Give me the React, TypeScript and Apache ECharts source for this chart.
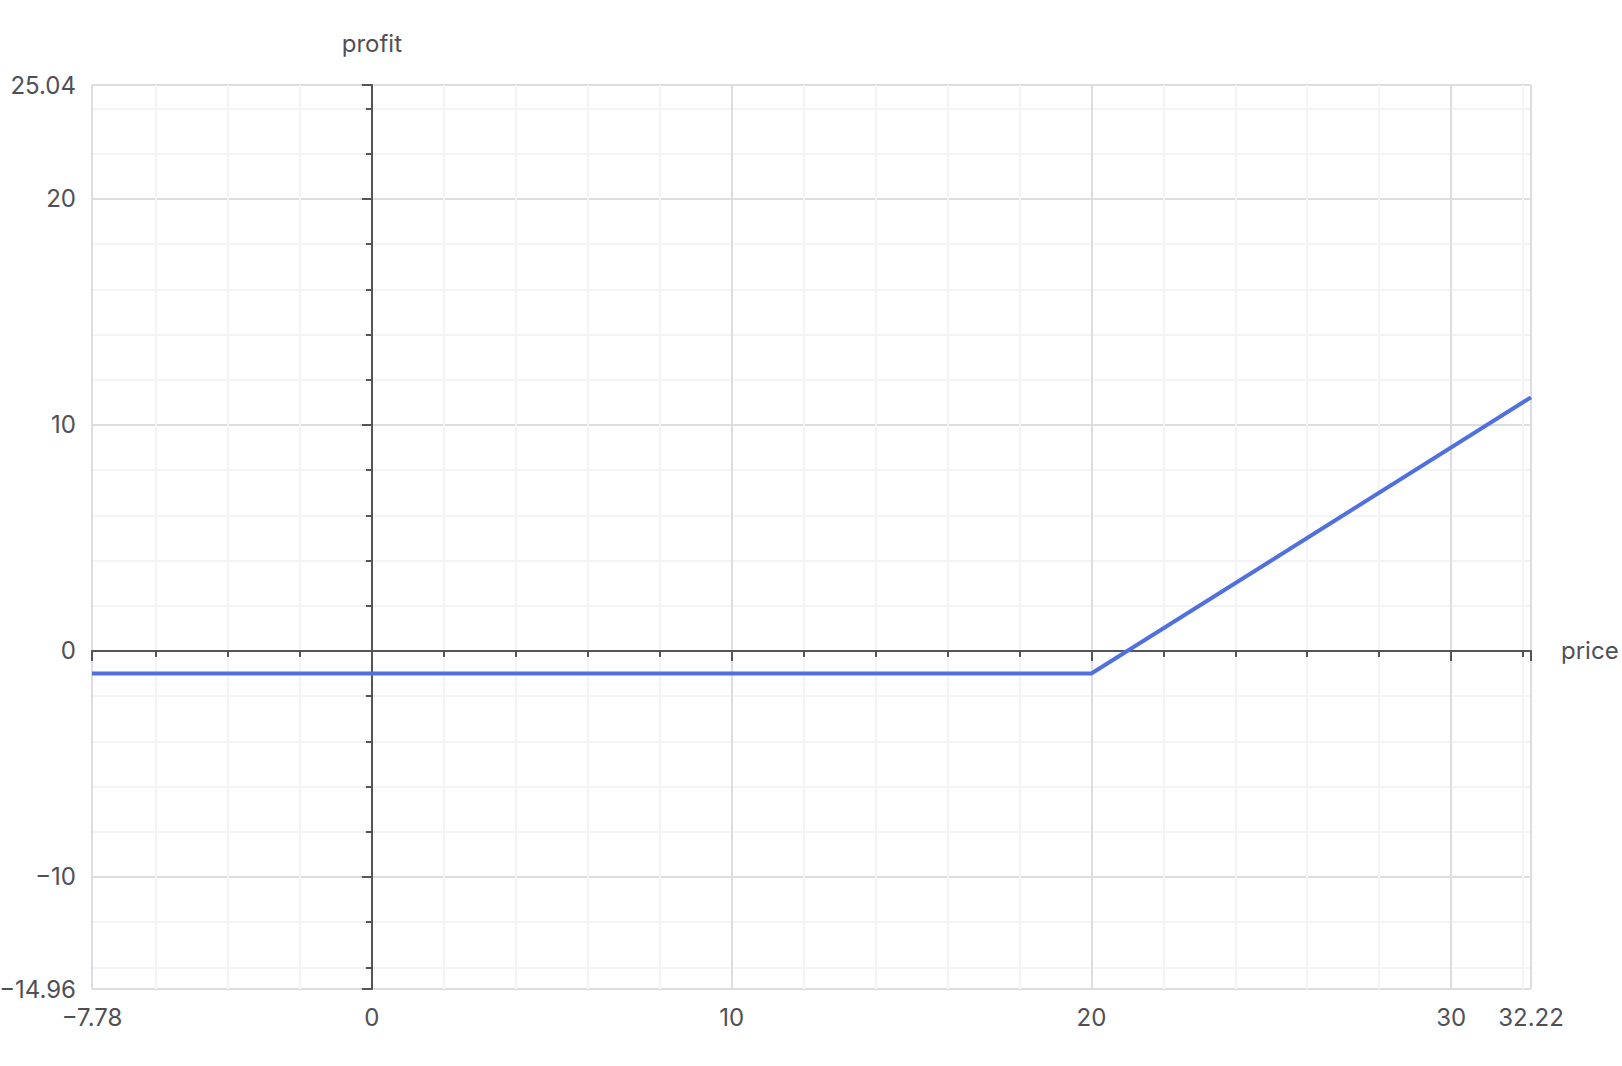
import React, { useEffect, useRef } from 'react';
import * as echarts from 'echarts';

const priceValues = [-7.78, 20, 32.22];
const profitValues = [-1, -1, 11.22];
const xMin = -7.78;
const xMax = 32.22;
const yMin = -14.96;
const yMax = 25.04;
const xName = 'price';
const yName = 'profit';

const FONT = 'Inter, "Noto Sans", sans-serif';
const AXIS_COLOR = '#54555a';
const LABEL_COLOR = '#4f5056';
const SPLIT_COLOR = '#dcdde3';
const MINOR_COLOR = '#f3f3f8';

const fmt = (v: number) => String(v).replace('-', '\u2212');

export default function App() {
  const ref = useRef<HTMLDivElement>(null);
  useEffect(() => {
    document.body.style.margin = '0';
    const chart = echarts.init(ref.current!, null, { renderer: 'svg' });
    const lineAxisCommon = {
      type: 'value' as const,
      nameGap: 30,
      nameTextStyle: { fontSize: 24, color: LABEL_COLOR, fontFamily: FONT },
      axisLine: { show: true, onZero: true, lineStyle: { color: AXIS_COLOR, width: 2 } },
      axisTick: { show: true, length: 10, lineStyle: { color: AXIS_COLOR, width: 2 } },
      minorTick: { show: true, splitNumber: 5, length: 6, lineStyle: { color: AXIS_COLOR, width: 2 } },
      axisLabel: { show: false },
      splitLine: { show: true, lineStyle: { color: SPLIT_COLOR, width: 2 } },
      minorSplitLine: { show: true, lineStyle: { color: MINOR_COLOR, width: 2 } },
    };
    const labelAxisCommon = {
      type: 'value' as const,
      axisLine: { show: false, onZero: false },
      axisTick: { show: false },
      minorTick: { show: false },
      splitLine: { show: false },
      minorSplitLine: { show: false },
      axisLabel: {
        show: true,
        margin: 16,
        fontSize: 24,
        color: LABEL_COLOR,
        fontFamily: FONT,
        showMinLabel: true,
        showMaxLabel: true,
        formatter: fmt,
      },
    };
    chart.setOption({
      animation: false,
      grid: { left: 92, right: 91, top: 85, bottom: 77, containLabel: false, outerBoundsMode: 'none' },
      xAxis: [
        { ...lineAxisCommon, min: xMin, max: xMax, position: 'bottom', name: xName, nameLocation: 'end' },
        { ...labelAxisCommon, min: xMin, max: xMax, position: 'bottom' },
      ],
      yAxis: [
        { ...lineAxisCommon, min: yMin, max: yMax, position: 'left', name: yName, nameLocation: 'end' },
        { ...labelAxisCommon, min: yMin, max: yMax, position: 'left' },
      ],
      series: [
        {
          type: 'line',
          xAxisIndex: 0,
          yAxisIndex: 0,
          data: priceValues.map((p, i) => [p, profitValues[i]]),
          showSymbol: false,
          symbol: 'none',
          lineStyle: { color: '#5070dd', width: 4 },
          itemStyle: { color: '#5070dd' },
          clip: true,
        },
      ],
    });
    return () => chart.dispose();
  }, []);
  return <div ref={ref} style={{ width: 1622, height: 1066 }} />;
}
